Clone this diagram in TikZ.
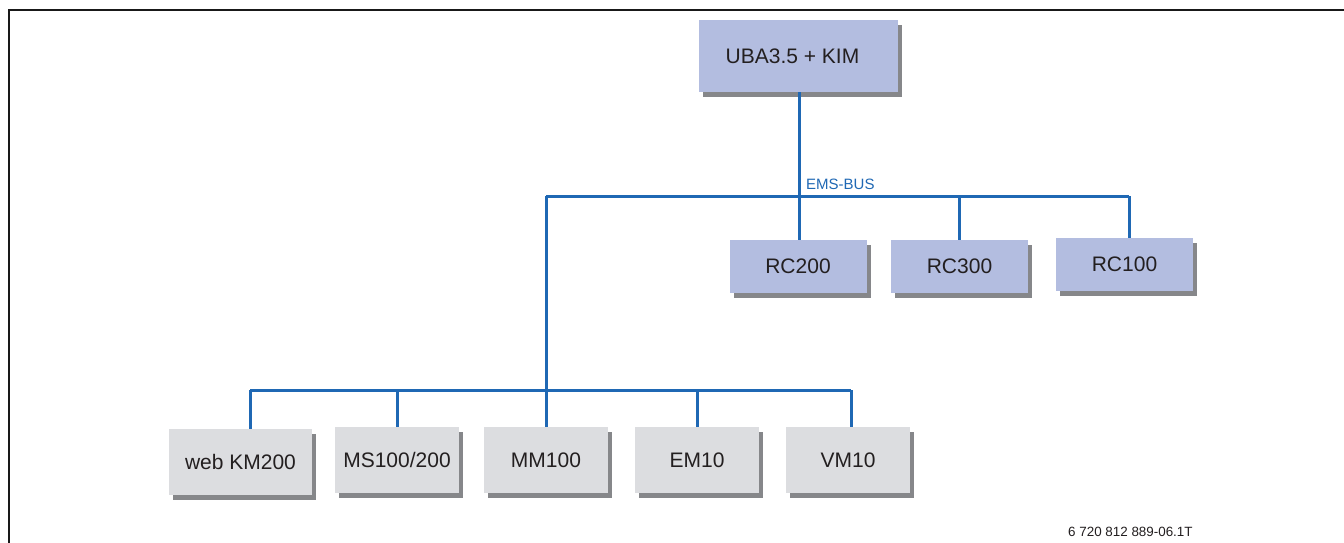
\documentclass[tikz,border=0pt]{standalone}
\usepackage{fontspec}
\setmainfont{Liberation Sans}
\usetikzlibrary{shadows}
\definecolor{busblue}{HTML}{1F68B4}
\definecolor{boxblue}{HTML}{B3BDE0}
\definecolor{boxgrey}{HTML}{DCDDE0}
\definecolor{shadowgrey}{HTML}{86878A}
\definecolor{txt}{HTML}{231F20}
\tikzset{
  unit/.style={rectangle, inner sep=0pt, text=txt, font=\fontsize{21}{24}\selectfont,
    drop shadow={shadow xshift=4pt, shadow yshift=-5pt, fill=shadowgrey, opacity=1}},
  ctrl/.style={unit, fill=boxblue},
  modl/.style={unit, fill=boxgrey},
  bus/.style={draw=busblue, line width=3pt},
  frameline/.style={draw=black!90, line width=2pt},
}
\begin{document}
\begin{tikzpicture}[x=1pt, y=-1pt]
\useasboundingbox (0,0) rectangle (1344,542);
\fill[white] (0,0) rectangle (1344,542);
\draw[frameline] (9,543) -- (9,10) -- (1345,10);

% nodes
\node[ctrl, minimum width=199pt, minimum height=72pt] (uba) at (798.5,56) {\makebox[150pt][c]{UBA3.5 + KIM}\kern12pt};
\node[ctrl, minimum width=137pt, minimum height=53pt] (rc200) at (798,266.5) {RC200};
\node[ctrl, minimum width=137pt, minimum height=53pt] (rc300) at (959.5,266.5) {RC300};
\node[ctrl, minimum width=137pt, minimum height=53pt] (rc100) at (1124.5,264.5) {RC100};

\node[modl, minimum width=143pt, minimum height=66pt] (web) at (240.5,462) {web KM200};
\node[modl, minimum width=124pt, minimum height=66pt] (ms) at (397,460) {MS100/200};
\node[modl, minimum width=124pt, minimum height=66pt] (mm) at (546,460) {MM100};
\node[modl, minimum width=124pt, minimum height=66pt] (em) at (697,460) {EM10};
\node[modl, minimum width=124pt, minimum height=66pt] (vm) at (848,460) {VM10};

% bus points
\coordinate (busA) at (546,196);
\coordinate (busU) at (799,196);
\coordinate (bus3) at (959,196);
\coordinate (busB) at (1129,196);
\coordinate (busC) at (250,390);
\coordinate (bus2) at (397,390);
\coordinate (bus4) at (697,390);
\coordinate (busD) at (851,390);

% connectors
\draw[bus] (busU |- uba.south) -- (busU |- rc200.north);
\draw[bus] (busA) -- (busB);
\draw[bus] (bus3) -- (bus3 |- rc300.north);
\draw[bus] (busB) -- (busB |- rc100.north);
\draw[bus] (busA) -- (mm.north);
\draw[bus] (busC) -- (busD);
\draw[bus] (busC) -- (busC |- web.north);
\draw[bus] (bus2) -- (bus2 |- ms.north);
\draw[bus] (bus4) -- (bus4 |- em.north);
\draw[bus] (busD) -- (busD |- vm.north);

% labels
\node[anchor=base west, inner sep=0pt, text=busblue, font=\fontsize{15}{18}\selectfont] (ems) at (806,189) {EMS-BUS};
\node[anchor=base west, inner sep=0pt, text=txt, font=\fontsize{13.4}{16}\selectfont] (fig) at (1068,536) {6 720 812 889-06.1T};
\end{tikzpicture}
\end{document}
